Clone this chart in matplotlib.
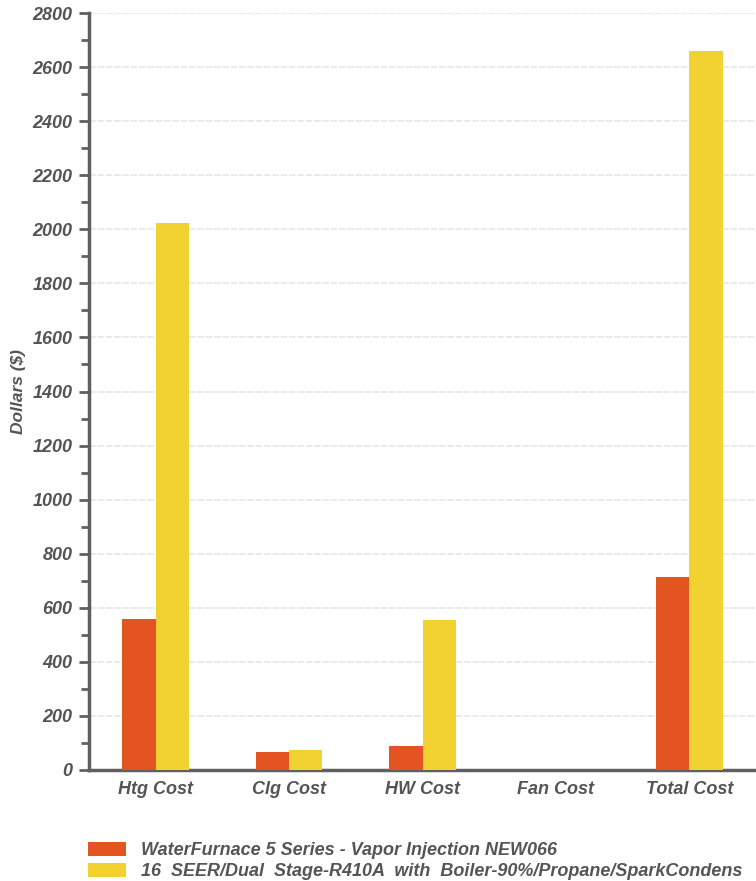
import matplotlib.pyplot as plt
import matplotlib.ticker as ticker
import numpy as np
from matplotlib import rcParams

categories = ["Htg Cost", "Clg Cost", "HW Cost", "Fan Cost", "Total Cost"]
waterfurnace = [558, 65, 89, 0, 715]
dual_stage = [2025, 74, 556, 0, 2660]
labels = ["WaterFurnace 5 Series - Vapor Injection NEW066",
          "16  SEER/Dual  Stage-R410A  with  Boiler-90%/Propane/SparkCondens"]

config = {
    "font.family": ["Liberation Sans", "DejaVu Sans"],
    "font.size": 13,
    "font.weight": "bold",
    "font.style": "italic",
}
rcParams.update(config)

text_gray = "#555555"
axis_gray = "#606060"

fig = plt.figure(figsize=[7.56, 8.81], dpi=100)
ax = fig.add_axes([89 / 756, 111 / 881, 1 - 89 / 756, (770 - 13) / 881])

x = np.arange(len(categories))
width = 0.25
ax.bar(x - width / 2, waterfurnace, width=width, color="#E35420", label=labels[0], zorder=3)
ax.bar(x + width / 2, dual_stage, width=width, color="#F2D231", label=labels[1], zorder=3)

ax.set_xlim(-0.5, len(categories) - 0.5)
ax.set_ylim(0, 2800)
ax.yaxis.set_major_locator(ticker.MultipleLocator(200))
ax.yaxis.set_minor_locator(ticker.MultipleLocator(100))
ax.grid(axis="y", which="major", color="#e6e6e6", linestyle=(0, (4, 1)), linewidth=1.2, zorder=0)

ax.set_xticks(x)
ax.set_xticklabels(categories)
ax.tick_params(axis="x", length=0, pad=8, labelsize=13, labelcolor=text_gray)
ax.tick_params(axis="y", which="major", length=7, width=2, color=axis_gray,
               labelsize=13, labelcolor=text_gray, pad=5)
ax.tick_params(axis="y", which="minor", length=6, width=2, color=axis_gray)

for side in ["top", "right"]:
    ax.spines[side].set_visible(False)
for side in ["left", "bottom"]:
    ax.spines[side].set_color(axis_gray)
    ax.spines[side].set_linewidth(2.5)

ax.set_ylabel("Dollars ($)", color=text_gray, fontsize=12.5, fontweight="bold")
ax.yaxis.set_label_coords(-(89 - 26) / 667, 0.5)

fig.legend(loc="lower left", bbox_to_anchor=(87 / 756, 0.0), frameon=False,
           fontsize=13, labelcolor=text_gray, handlelength=2.1, handleheight=0.85,
           handletextpad=0.85, labelspacing=0.2, borderpad=0.05, borderaxespad=0)

plt.savefig("out.png", dpi=100)
